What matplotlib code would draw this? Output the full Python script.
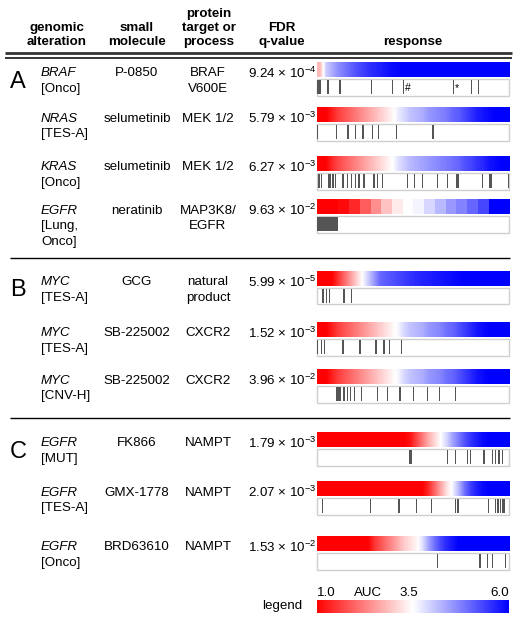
import numpy as np
import matplotlib.pyplot as plt
from matplotlib.colors import LinearSegmentedColormap
from matplotlib.patches import Rectangle
from matplotlib.cm import ScalarMappable
from matplotlib.colors import Normalize

plt.rcParams['font.family'] = ['Liberation Sans', 'DejaVu Sans']
plt.rcParams['mathtext.fontset'] = 'custom'
plt.rcParams['mathtext.rm'] = 'Liberation Sans'
plt.rcParams['mathtext.default'] = 'regular'

# ---- table content ----
headers = ['genomic\nalteration', 'small\nmolecule', 'protein\ntarget or\nprocess', 'FDR\nq-value', 'response']
panels = ['A', 'B', 'C']
panel_first_row = [0, 4, 7]
genes = ['BRAF', 'NRAS', 'KRAS', 'EGFR', 'MYC', 'MYC', 'MYC', 'EGFR', 'EGFR', 'EGFR']
contexts = ['[Onco]', '[TES-A]', '[Onco]', '[Lung,\nOnco]', '[TES-A]', '[TES-A]', '[CNV-H]',
            '[MUT]', '[TES-A]', '[Onco]']
molecules = ['P-0850', 'selumetinib', 'selumetinib', 'neratinib', 'GCG', 'SB-225002', 'SB-225002',
             'FK866', 'GMX-1778', 'BRD63610']
targets = ['BRAF\nV600E', 'MEK 1/2', 'MEK 1/2', 'MAP3K8/\nEGFR', 'natural\nproduct', 'CXCR2', 'CXCR2',
           'NAMPT', 'NAMPT', 'NAMPT']
q_mantissa = ['9.24', '5.79', '6.27', '9.63', '5.99', '1.52', '3.96', '1.79', '2.07', '1.53']
q_exponent = [-4, -3, -3, -2, -5, -3, -2, -3, -3, -2]

# sorted AUC of cell lines (left -> right)
auc_braf = [2.8, 4.0, 4.3, 4.6, 4.8, 5.0, 5.2, 5.35, 5.5, 5.6, 5.7, 5.8, 5.9, 5.95, 6.0, 6.0,
            6.0, 6.0, 6.0, 6.0, 6.0, 6.0, 6.0, 6.0, 6.0, 6.0, 6.0, 6.0, 6.0, 6.0, 6.0, 6.0]
auc_nras = [1.0, 1.0, 1.3, 1.6, 1.8, 2.0, 2.2, 2.4, 2.6, 2.8, 3.0, 3.2, 3.4, 3.7, 3.9, 4.1,
            4.2, 4.3, 4.5, 4.6, 4.7, 4.8, 5.0, 5.1, 5.3, 5.5, 5.7, 5.8, 5.9, 6.0, 6.0, 6.0]
auc_kras = [1.0, 1.0, 1.4, 1.7, 1.9, 2.1, 2.3, 2.5, 2.7, 2.9, 3.1, 3.3, 3.5, 3.8, 4.0, 4.2,
            4.3, 4.4, 4.5, 4.6, 4.7, 4.8, 4.9, 5.0, 5.2, 5.3, 5.5, 5.6, 5.8, 5.9, 6.0, 6.0]
auc_egfr_ner = [1.0, 1.0, 1.1, 1.4, 1.9, 2.4, 2.9, 3.3, 3.5, 3.6, 3.9, 4.2, 4.5, 4.7, 5.0, 5.3, 6.0, 6.0]
auc_myc_gcg = [1.0, 1.0, 1.0, 1.5, 2.0, 2.5, 3.0, 3.5, 4.0, 4.5, 5.0, 5.1, 5.2, 5.3, 5.4, 5.5,
               5.6, 5.65, 5.7, 5.75, 5.8, 5.85, 5.9, 5.95, 6.0, 6.0, 6.0, 6.0, 6.0, 6.0, 6.0, 6.0]
auc_myc_sb1 = [1.0, 1.0, 1.3, 1.6, 1.8, 2.0, 2.2, 2.4, 2.6, 2.8, 3.0, 3.2, 3.4, 3.6, 3.9, 4.1,
               4.2, 4.3, 4.5, 4.6, 4.7, 4.9, 5.0, 5.2, 5.4, 5.6, 5.8, 5.9, 6.0, 6.0, 6.0, 6.0]
auc_myc_sb2 = [1.0, 1.0, 1.3, 1.6, 1.8, 2.0, 2.2, 2.4, 2.6, 2.8, 3.0, 3.2, 3.4, 3.6, 3.9, 4.1,
               4.2, 4.3, 4.5, 4.6, 4.7, 4.9, 5.0, 5.2, 5.4, 5.6, 5.8, 5.9, 6.0, 6.0, 6.0, 6.0]
auc_egfr_fk = [1.0, 1.0, 1.0, 1.0, 1.0, 1.0, 1.0, 1.0, 1.0, 1.0, 1.0, 1.0, 1.0, 1.0, 1.0, 1.2,
               1.7, 2.2, 2.7, 3.1, 3.5, 3.9, 4.4, 4.8, 5.2, 5.5, 5.7, 5.9, 6.0, 6.0, 6.0, 6.0]
auc_egfr_gmx = [1.0, 1.0, 1.0, 1.0, 1.0, 1.0, 1.0, 1.0, 1.0, 1.0, 1.0, 1.0, 1.0, 1.0, 1.0, 1.0,
                1.0, 1.0, 1.4, 2.0, 2.6, 3.2, 3.6, 4.2, 4.9, 5.4, 5.7, 5.9, 6.0, 6.0, 6.0, 6.0]
auc_egfr_brd = [1.0, 1.0, 1.0, 1.0, 1.0, 1.0, 1.0, 1.0, 1.0, 1.5, 1.8, 2.1, 2.4, 2.7, 3.0, 3.2,
                3.4, 3.8, 4.4, 4.9, 5.3, 5.6, 5.8, 6.0, 6.0, 6.0, 6.0, 6.0, 6.0, 6.0, 6.0, 6.0]
auc_profiles = [auc_braf, auc_nras, auc_kras, auc_egfr_ner, auc_myc_gcg, auc_myc_sb1, auc_myc_sb2,
                auc_egfr_fk, auc_egfr_gmx, auc_egfr_brd]
# neratinib was screened on few lines -> blocky bar
smooth_bar = [True, True, True, False, True, True, True, True, True, True]

# positions (fraction of ranked list) of cell lines carrying the alteration
hits_braf = [0.002, 0.010, 0.018, 0.057, 0.118, 0.282, 0.391, 0.450, 0.707, 0.800, 0.837]
hits_nras = [0.0, 0.100, 0.161, 0.199, 0.234, 0.242, 0.286, 0.317, 0.412, 0.601]
hits_kras = [0.009, 0.021, 0.062, 0.070, 0.078, 0.086, 0.094, 0.135, 0.156, 0.177, 0.199, 0.217,
             0.243, 0.295, 0.312, 0.338, 0.468, 0.506, 0.546, 0.624, 0.676, 0.726, 0.731, 0.858,
             0.897, 0.903, 0.994]
hits_egfr_ner = [0.0]
hits_myc_gcg = [0.030, 0.047, 0.064, 0.139, 0.177]
hits_myc_sb1 = [0.003, 0.021, 0.038, 0.135, 0.222, 0.305, 0.347, 0.376, 0.438]
hits_myc_sb2 = [0.101, 0.109, 0.118, 0.139, 0.156, 0.173, 0.194, 0.229, 0.312, 0.367, 0.430, 0.499,
                0.572, 0.636, 0.719]
hits_egfr_fk = [0.482, 0.490, 0.676, 0.719, 0.780, 0.797, 0.867, 0.910, 0.927, 0.945, 0.962]
hits_egfr_gmx = [0.029, 0.277, 0.425, 0.515, 0.594, 0.719, 0.731, 0.889, 0.927, 0.939, 0.953,
                 0.965, 0.974]
hits_egfr_brd = [0.624, 0.846, 0.884, 0.910, 0.979]
hit_positions = [hits_braf, hits_nras, hits_kras, hits_egfr_ner, hits_myc_gcg, hits_myc_sb1,
                 hits_myc_sb2, hits_egfr_fk, hits_egfr_gmx, hits_egfr_brd]
hit_widths = [0.007, 0.007, 0.007, 0.113, 0.007, 0.007, 0.007, 0.007, 0.007, 0.007]

# annotated cell lines in the BRAF row
mark_symbols = ['#', '*']
mark_positions = [0.450, 0.707]

legend_ticks = ['1.0', '3.5', '6.0']
auc_min, auc_mid, auc_max = 1.0, 3.5, 6.0

# ---- layout (pixels, y downward) ----
W, H = 523, 622
bar_x0, bar_x1 = 316.5, 509.0
bar_tops = [63, 108, 157, 200, 271.5, 323, 370, 433, 482, 537]
bar_h, gap, code_h = 14.5, 1.5, 16.5
col_gene_x, col_mol_x, col_tgt_x, col_q_x = 41, 137, 208, 282
line_step = 15.5
fs = 9.6

cmap = LinearSegmentedColormap.from_list('auc', ['#ff0000', '#ffffff', '#0000ff'])

fig = plt.figure(figsize=(W / 100, H / 100), dpi=100)
ax = fig.add_axes([0, 0, 1, 1])

# header
head_x = [57, 137, 209, 282, 413]
for hx, h in zip(head_x, headers):
    ax.text(hx, 48, h, ha='center', va='bottom', fontsize=fs, fontweight='bold',
            linespacing=1.2)
ax.plot([5, 512], [53, 53], color='#333333', lw=2.0, solid_capstyle='butt')
ax.plot([5, 512], [57.5, 57.5], color='black', lw=1.1, solid_capstyle='butt')

# panel separators
for sep in [258, 418]:
    ax.plot([10, 510], [sep, sep], color='black', lw=1.0, solid_capstyle='butt')

for letter, r in zip(panels, panel_first_row):
    ax.text(18, bar_tops[r] + 19, letter, ha='center', va='center', fontsize=17)


def stacked(x, y, txt, ha, **kw):
    # one line of text every line_step pixels
    for k, line in enumerate(txt.split('\n')):
        ax.text(x, y + k * line_step, line, ha=ha, va='center', fontsize=fs, **kw)


bw = bar_x1 - bar_x0
for i in range(len(genes)):
    top = bar_tops[i]
    ty = top + 10.5
    ax.text(col_gene_x, ty, genes[i], ha='left', va='center', fontsize=fs, style='italic')
    stacked(col_gene_x, ty + line_step, contexts[i], 'left')
    stacked(col_mol_x, ty, molecules[i], 'center')
    stacked(col_tgt_x, ty, targets[i], 'center')
    ax.text(col_q_x, ty, '%s × 10$^{%d}$' % (q_mantissa[i], q_exponent[i]),
            ha='center', va='center', fontsize=fs)

    # response colour bar
    prof = np.array(auc_profiles[i])[None, :]
    ax.imshow(prof, cmap=cmap, vmin=auc_min, vmax=auc_max, aspect='auto',
              interpolation='bilinear' if smooth_bar[i] else 'nearest',
              extent=(bar_x0, bar_x1, top + bar_h, top))

    # barcode of altered cell lines
    cy = top + bar_h + gap
    ax.add_patch(Rectangle((bar_x0, cy), bw, code_h, facecolor='white',
                           edgecolor='#cfcfcf', lw=1.0))
    xs = [bar_x0 + p * bw for p in hit_positions[i]]
    ax.bar(xs, code_h - 2.5, width=hit_widths[i] * bw, bottom=cy + 1.2, align='edge',
           color='#555555', linewidth=0)
    if i == 0:
        for s, p in zip(mark_symbols, mark_positions):
            ax.text(bar_x0 + p * bw + 2, cy + code_h / 2 + 0.5, s, ha='left', va='center',
                    fontsize=7.5)

# legend
ax.text(302, 606.5, 'legend', ha='right', va='center', fontsize=fs)
ax.text(bar_x0, 593, legend_ticks[0], ha='left', va='center', fontsize=fs)
ax.text(bar_x0 + 0.27 * bw, 593, 'AUC', ha='center', va='center', fontsize=fs)
ax.text(bar_x0 + (auc_mid - auc_min) / (auc_max - auc_min) * bw - 4, 593, legend_ticks[1],
        ha='center', va='center', fontsize=fs)
ax.text(bar_x1, 593, legend_ticks[2], ha='right', va='center', fontsize=fs)

ax.set_xlim(0, W)
ax.set_ylim(H, 0)
ax.axis('off')

cax = fig.add_axes([bar_x0 / W, 1 - 613 / H, bw / W, 13 / H])
cb = fig.colorbar(ScalarMappable(norm=Normalize(auc_min, auc_max), cmap=cmap), cax=cax,
                  orientation='horizontal')
cb.set_ticks([])
cb.outline.set_visible(False)

fig.savefig('out.png', dpi=100)
